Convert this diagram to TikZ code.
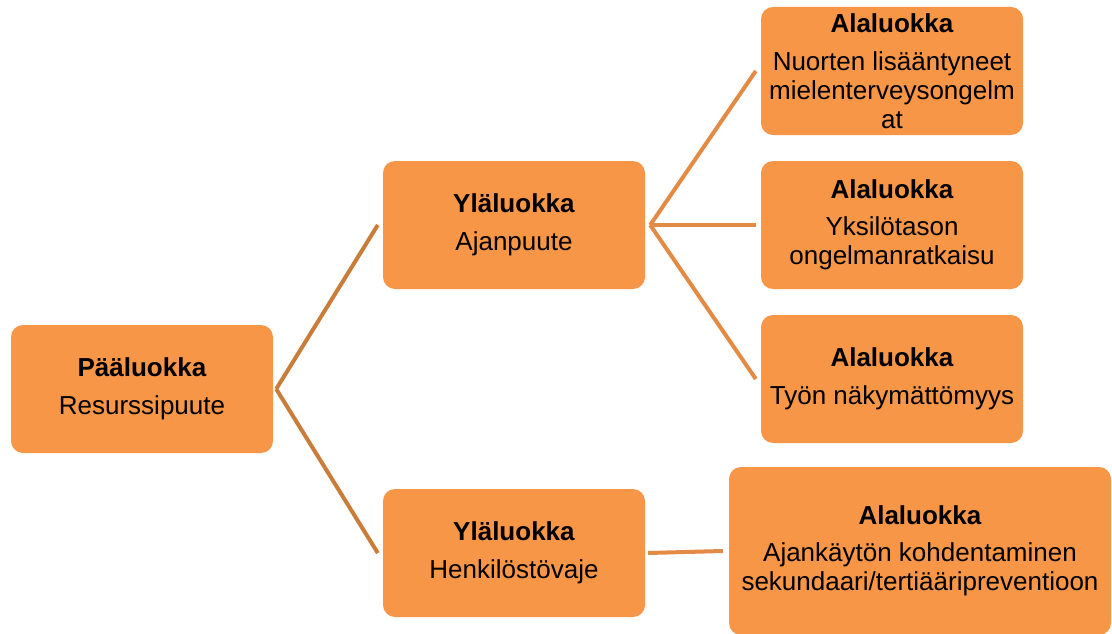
\documentclass[tikz,border=0pt]{standalone}
\usepackage{fontspec}
\setmainfont{Liberation Sans}
\usetikzlibrary{positioning,calc}
\definecolor{boxfill}{HTML}{F79646}
\definecolor{linkdark}{HTML}{C87D3B}
\definecolor{linklight}{HTML}{E38A45}

\begin{document}
\begin{tikzpicture}[x=1pt,y=-1pt,
    box/.style={draw=none,fill=boxfill,rounded corners=12pt,align=center,
      minimum width=262pt,minimum height=128pt,inner sep=0pt,
      font=\fontsize{26}{29}\selectfont},
    link/.style={line width=4pt,draw=#1}]
    \useasboundingbox (0,0) rectangle (1112,634);
    \node[box]                       (p_0) at (142,389) {\textbf{Pääluokka}\\[8.5pt]Resurssipuute};
    \node[box]                       (y_1) at (514,225) {\textbf{Yläluokka}\\[8.5pt]Ajanpuute};
    \node[box]                       (y_2) at (514,553) {\textbf{Yläluokka}\\[8.5pt]Henkilöstövaje};
    \node[box]                       (a_1) at (892,71)  {\textbf{Alaluokka}\\[8.5pt]Nuorten lisääntyneet\\mielenterveysongelm\\at};
    \node[box]                       (a_2) at (892,225) {\textbf{Alaluokka}\\[8.5pt]Yksilötason\\ongelmanratkaisu};
    \node[box]                       (a_3) at (892,379) {\textbf{Alaluokka}\\[8.5pt]Työn näkymättömyys};
    \node[box,minimum width=382pt,minimum height=168pt]
                                     (a_4) at (920,551) {\textbf{Alaluokka}\\[8.5pt]Ajankäytön kohdentaminen\\sekundaari/tertiääripreventioon};
    \draw[link=linkdark]  ($(p_0.east)+(3,0)$) -- ($(y_1.west)+(-5,0)$);
    \draw[link=linkdark]  ($(p_0.east)+(3,0)$) -- ($(y_2.west)+(-5,0)$);
    \draw[link=linklight] ($(y_1.east)+(5,0)$) -- ($(a_1.west)+(-5,0)$);
    \draw[link=linklight] ($(y_1.east)+(5,0)$) -- ($(a_2.west)+(-5,0)$);
    \draw[link=linklight] ($(y_1.east)+(5,0)$) -- ($(a_3.west)+(-5,0)$);
    \draw[link=linklight] ($(y_2.east)+(3,0)$) -- ($(a_4.west)+(-6,0)$);
\end{tikzpicture}
\end{document}
